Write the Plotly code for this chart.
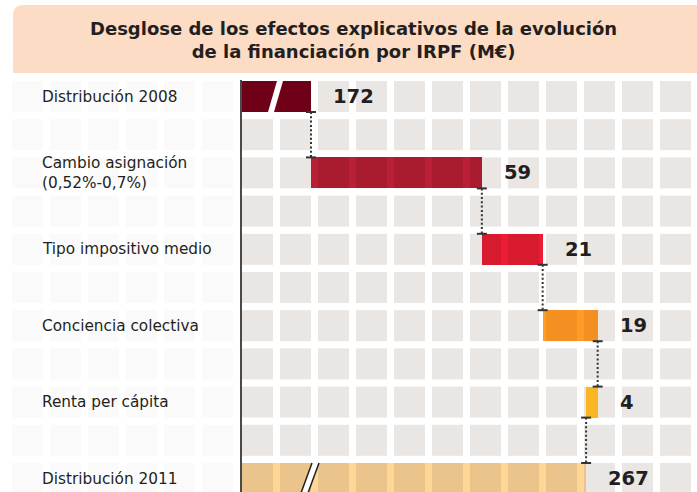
import plotly.graph_objects as go

# ---------------- data ----------------
CATEGORIES = ["Distribución 2008", "Cambio asignación<br>(0,52%-0,7%)", "Tipo impositivo medio",
              "Conciencia colectiva", "Renta per cápita", "Distribución 2011"]
START_TOTAL = 172
CHANGES = [59, 21, 19, -4]
END_TOTAL = 267
VALUE_LABELS = ["172", "59", "21", "19", "4", "267"]
BAR_COLORS = ["#6E0018", "#A91C2F", "#D81A2E", "#F39021", "#FBB624", "#EAC48A"]
STRIPE_COLORS = ["#78001B", "#BA2035", "#EE1B34", "#FF9C26", "#FFC22A", "#FED797"]
TITLE = "Desglose de los efectos explicativos de la evolución<br>de la financiación por IRPF (M€)"

# ---------------- geometry ----------------
W, H = 697, 492
X_RANGE = [64.6, 305.3]
ROW0, ROW_STEP, SQ = 96.5, 38.2, 31
COL0, COL_STEP, NCOL = 242, 38, 12
LEFT0, NLEFT = 12, 6
NROW = 11
FONT = "DejaVu Sans"
TXT = "#231F20"


def px2v(px):
    return X_RANGE[0] + px * (X_RANGE[1] - X_RANGE[0]) / W


def xp(px):
    return px / W


def yp(py):
    return 1 - py / H


y_range = [(H - ROW0) / ROW_STEP, -ROW0 / ROW_STEP]
bw = SQ / ROW_STEP
axis_v = px2v(COL0)

cum = [START_TOTAL]
for c in CHANGES:
    cum.append(cum[-1] + c)

los, his = [axis_v], [START_TOTAL]
for i, c in enumerate(CHANGES):
    a, b = cum[i], cum[i + 1]
    los.append(min(a, b))
    his.append(max(a, b))
los.append(axis_v)
his.append(END_TOTAL)
rows = [2 * i for i in range(len(CATEGORIES))]

fig = go.Figure()

# grid squares
shapes = []
for r in range(NROW):
    top = ROW0 - SQ / 2 + ROW_STEP * r
    for k in range(NCOL):
        x0 = COL0 + COL_STEP * k
        shapes.append(dict(type="rect", xref="paper", yref="paper", layer="below",
                           x0=xp(x0), x1=xp(x0 + SQ), y0=yp(top + SQ), y1=yp(top),
                           fillcolor="#E9E6E3", line=dict(width=0)))
    for k in range(NLEFT):
        x0 = LEFT0 + COL_STEP * k
        shapes.append(dict(type="rect", xref="paper", yref="paper", layer="below",
                           x0=xp(x0), x1=xp(x0 + SQ), y0=yp(top + SQ), y1=yp(top),
                           fillcolor="#FBFAFA", line=dict(width=0)))

# bars
fig.add_trace(go.Bar(orientation="h", y=rows, base=los,
                     x=[h - l for l, h in zip(los, his)], width=bw,
                     marker=dict(color=BAR_COLORS, line=dict(width=0)),
                     hoverinfo="skip", showlegend=False))

# lighter stripes where bars cross the white grid gaps
for i in range(len(rows)):
    sb, sx = [], []
    for k in range(NCOL):
        g0 = px2v(COL0 + COL_STEP * k + SQ)
        g1 = px2v(COL0 + COL_STEP * (k + 1))
        a, b = max(g0, los[i]), min(g1, his[i])
        if b > a:
            sb.append(a)
            sx.append(b - a)
    if sb:
        fig.add_trace(go.Bar(orientation="h", y=[rows[i]] * len(sb), base=sb, x=sx, width=bw,
                             marker=dict(color=STRIPE_COLORS[i], line=dict(width=0)),
                             hoverinfo="skip", showlegend=False))

# connectors
cap = px2v(5) - px2v(0)
dx, dy, cx, cy = [], [], [], []
for i in range(len(cum)):
    x = cum[i]
    y0 = rows[i] + bw / 2
    y1 = rows[i + 1] - bw / 2
    dx += [x, x, None]
    dy += [y0, y1, None]
    cx += [x - cap, x + cap, None, x - cap, x + cap, None]
    cy += [y0, y0, None, y1, y1, None]
fig.add_trace(go.Scatter(x=dx, y=dy, mode="lines", hoverinfo="skip", showlegend=False,
                         line=dict(color="#333333", width=2, dash="2px,2.3px")))
fig.add_trace(go.Scatter(x=cx, y=cy, mode="lines", hoverinfo="skip", showlegend=False,
                         line=dict(color="#333333", width=2)))

# axis line
shapes.append(dict(type="line", xref="paper", yref="paper", layer="above",
                   x0=xp(241), x1=xp(241), y0=yp(80), y1=yp(H + 5),
                   line=dict(color="#4A4A4A", width=2)))

# axis break marks
shapes.append(dict(type="path", xref="paper", yref="paper", layer="above",
                   path=f"M {xp(277)},{yp(81)} L {xp(283)},{yp(81)} L {xp(274)},{yp(112)} L {xp(268)},{yp(112)} Z",
                   fillcolor="white", line=dict(width=0)))
shapes.append(dict(type="path", xref="paper", yref="paper", layer="above",
                   path=f"M {xp(312)},{yp(463)} L {xp(319)},{yp(463)} L {xp(308)},{yp(493)} L {xp(301)},{yp(493)} Z",
                   fillcolor="white", line=dict(width=0)))
for a, b in [((312, 463), (301, 493)), ((319, 463), (308, 493))]:
    shapes.append(dict(type="line", xref="paper", yref="paper", layer="above",
                       x0=xp(a[0]), y0=yp(a[1]), x1=xp(b[0]), y1=yp(b[1]),
                       line=dict(color=TXT, width=1.5)))

# title box
shapes.append(dict(type="path", xref="paper", yref="paper", layer="below",
                   path=(f"M {xp(13)},{yp(73)} L {xp(13)},{yp(16)} Q {xp(13)},{yp(5)} {xp(24)},{yp(5)} "
                         f"L {xp(700)},{yp(5)} L {xp(700)},{yp(73)} Z"),
                   fillcolor="#FDDCC5", line=dict(width=0)))

annotations = [dict(text="<b>" + TITLE.replace("<br>", "</b><br><b>") + "</b>", xref="paper", yref="paper",
                    x=xp(353), y=yp(40), xanchor="center", yanchor="middle", showarrow=False,
                    font=dict(family=FONT, size=18, color=TXT), align="center")]

for i, name in enumerate(CATEGORIES):
    annotations.append(dict(text=name, xref="paper", yref="y", x=xp(40), y=rows[i],
                            xanchor="left", yanchor="middle", showarrow=False, align="left",
                            font=dict(family=FONT, size=15.3, color=TXT)))
    annotations.append(dict(text="<b>" + VALUE_LABELS[i] + "</b>", xref="x", yref="y", x=his[i], y=rows[i],
                            xanchor="left", yanchor="middle", showarrow=False, xshift=20,
                            font=dict(family=FONT, size=19.5, color=TXT)))

fig.update_layout(
    width=W, height=H, margin=dict(l=0, r=0, t=0, b=0),
    paper_bgcolor="white", plot_bgcolor="white",
    barmode="overlay", bargap=0,
    xaxis=dict(range=X_RANGE, visible=False, fixedrange=True),
    yaxis=dict(range=y_range, visible=False, fixedrange=True),
    shapes=shapes, annotations=annotations, showlegend=False,
)

fig.write_html("out.html", config={"displayModeBar": False},
               post_script="document.body.style.margin='0';document.body.style.overflow='hidden';")
